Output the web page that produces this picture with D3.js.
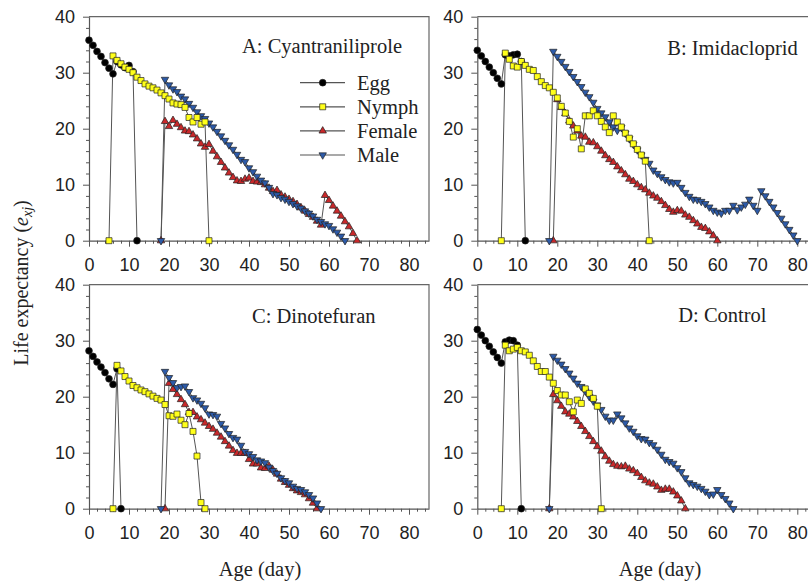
<!DOCTYPE html>
<html>
<head>
<meta charset="utf-8">
<script src="https://cdn.jsdelivr.net/npm/d3@7"></script>
<style>
body { margin: 0; background: #fff; }
svg { display: block; }
</style>
</head>
<body>
<svg width="808" height="583"></svg>
<script>
// stage names + panel titles
var stages = ["Egg", "Nymph", "Female", "Male"];
var panelTitles = ["A: Cyantraniliprole", "B: Imidacloprid", "C: Dinotefuran", "D: Control"];
var xTicks = [0, 10, 20, 30, 40, 50, 60, 70, 80];
var yTicks = [0, 10, 20, 30, 40];

// first age (day) of each curve: egg, nymph, female, male
var startA = [0, 5, 18, 18];
var startB = [0, 6, 19, 18];
var startC = [0, 6, 19, 18];
var startD = [0, 6, 18, 18];

// A: Cyantraniliprole
var eggA = [35.8, 34.9, 33.8, 32.9, 31.8, 30.8, 29.8, 32.0, 31.4, 30.9, 31.3, 30.2, 0];
var nymphA = [0, 33.0, 32.2, 31.6, 31.0, 30.6, 30.0, 29.2, 28.6, 28.0, 27.6, 27.3, 26.9, 26.4, 25.9, 25.3,
    24.6, 24.4, 24.3, 23.8, 22.0, 21.2, 22.0, 20.8, 21.2, 0];
var femaleA = [0, 21.3, 20.4, 21.5, 20.8, 20.2, 19.6, 19.5, 18.9, 18.2, 17.3, 16.7, 17.2, 16.0, 15.0, 14.0,
    13.0, 12.1, 11.3, 10.7, 10.6, 11.0, 11.2, 10.6, 10.5, 10.4, 10.0, 9.4, 8.8, 9.0, 8.2, 7.8, 7.4, 7.0,
    6.5, 5.9, 5.3, 4.7, 4.2, 3.5, 2.8, 8.1, 7.2, 6.2, 5.3, 4.4, 3.4, 2.5, 1.3, 0];
var maleA = [0, 28.8, 27.8, 27.1, 26.6, 25.8, 25.3, 24.5, 23.8, 23.0, 22.3, 21.8, 21.0, 20.3, 19.5, 18.7,
    17.9, 17.1, 16.3, 15.4, 14.5, 14.1, 13.0, 12.3, 11.5, 10.8, 10.3, 9.5, 8.4, 8.2, 7.7, 7.4, 7.0, 6.6,
    6.2, 5.8, 5.3, 4.9, 4.4, 3.8, 3.4, 3.0, 2.7, 2.1, 1.5, 0.8, 0];

// B: Imidacloprid
var eggB = [34, 33, 32, 31, 30, 29, 28, 33.2, 33.0, 33.2, 33.3, 32.0, 0];
var nymphB = [0, 33.5, 32.4, 31.2, 31.0, 32.0, 31.3, 30.6, 30.4, 29.3, 28.4, 27.7, 27.3, 26.5, 25.5, 24.0,
    22.8, 21.3, 18.5, 20.0, 16.4, 22.3, 22.3, 23.2, 22.3, 21.3, 20.3, 19.3, 22.3, 21.2, 20.3, 19.2, 18.3,
    17.3, 16.3, 15.3, 14.2, 0];
var femaleB = [0, 25.2, 23.8, 22.7, 21.4, 20.5, 19.6, 18.7, 18.5, 17.6, 17.5, 16.8, 16.0, 15.2, 14.5, 14.0,
    13.2, 12.5, 11.8, 11.0, 10.6, 10.0, 9.5, 9.1, 8.5, 8.0, 7.6, 7.0, 6.3, 5.6, 5.1, 5.4, 5.3, 4.6, 4.2,
    3.6, 3.0, 2.4, 2.2, 1.6, 0.9, 0];
var maleB = [0, 33.8, 32.9, 32.0, 31.1, 30.2, 29.3, 28.4, 27.5, 26.5, 25.7, 24.7, 23.6, 22.8, 22.1, 21.2,
    20.3, 19.7, 20.2, 19.2, 18.2, 17.2, 16.2, 15.3, 14.5, 13.8, 12.6, 12.0, 11.4, 10.9, 10.5, 10.3, 10.4,
    9.5, 8.6, 7.9, 7.4, 7.3, 7.0, 6.6, 6.0, 5.4, 5.1, 4.9, 5.4, 5.4, 6.3, 5.5, 6.0, 6.5, 7.4, 6.3, 5.4,
    8.9, 8.0, 7.0, 6.0, 5.0, 4.0, 3.0, 2.0, 1.0, 0];

// C: Dinotefuran
var eggC = [28.2, 27.2, 26.2, 25.3, 24.3, 23.2, 22.2, 25.0, 0];
var nymphC = [0, 25.6, 24.6, 23.6, 22.8, 22.0, 21.6, 21.2, 20.9, 20.5, 20.1, 19.7, 19.4, 18.6, 16.6, 16.5,
    16.9, 15.8, 15.0, 17.0, 13.8, 9.4, 1.1, 0];
var femaleC = [0, 22.4, 21.3, 20.4, 19.5, 18.6, 17.2, 17.2, 16.4, 15.9, 15.3, 14.7, 14.2, 13.5, 12.8, 12.0,
    11.2, 10.4, 9.9, 9.9, 9.9, 8.8, 8.0, 8.0, 7.3, 7.2, 7.6, 6.9, 6.2, 5.3, 4.7, 4.2, 3.6, 3.2, 2.9, 2.5,
    1.8, 1.0, 0];
var maleC = [0, 24.5, 23.4, 22.5, 21.6, 21.8, 21.9, 20.9, 19.8, 19.4, 18.8, 18.0, 16.9, 16.8, 16.5, 15.2,
    14.4, 13.4, 12.7, 12.4, 11.3, 10.2, 9.8, 9.3, 8.7, 8.5, 8.2, 7.4, 6.8, 6.3, 5.5, 5.0, 4.6, 4.0, 3.6,
    3.4, 3.0, 2.5, 1.9, 1.0, 0];

// D: Control
var eggD = [32, 31, 30, 29, 28, 27, 26, 29.8, 30.1, 30.0, 29.2, 0];
var nymphD = [0, 29.2, 28.2, 28.5, 28.8, 28.2, 28.0, 27.4, 26.4, 25.4, 24.5, 24.5, 23.5, 22.4, 21.1, 20.3,
    20.3, 19.1, 17.3, 19.4, 18.8, 21.4, 20.6, 19.7, 18.3, 0];
var femaleD = [0, 20.4, 19.3, 18.3, 17.3, 16.9, 16.4, 15.6, 14.7, 13.8, 12.9, 12.0, 11.1, 10.3, 9.3, 8.5,
    7.9, 7.6, 7.5, 7.6, 7.1, 6.8, 6.3, 5.6, 5.0, 4.6, 4.4, 3.9, 3.3, 3.5, 3.5, 3.0, 2.3, 1.4, 0];
var maleD = [0, 27.2, 26.5, 25.8, 25.0, 24.2, 23.3, 22.4, 21.8, 21.0, 20.0, 19.2, 18.5, 17.7, 16.5, 15.8,
    15.8, 16.9, 16.2, 15.3, 14.4, 13.8, 13.0, 12.5, 12.4, 11.8, 11.4, 10.6, 9.7, 8.8, 8.4, 8.1, 7.3, 6.6,
    5.5, 4.6, 4.3, 4.0, 3.6, 3.1, 2.5, 2.6, 3.4, 2.5, 1.8, 1.0, 0];

var panels = [
    {title: panelTitles[0], start: startA, series: [eggA, nymphA, femaleA, maleA]},
    {title: panelTitles[1], start: startB, series: [eggB, nymphB, femaleB, maleB]},
    {title: panelTitles[2], start: startC, series: [eggC, nymphC, femaleC, maleC]},
    {title: panelTitles[3], start: startD, series: [eggD, nymphD, femaleD, maleD]}
];

//Width and height of one panel
var w = 340;
var h = 224;
var origins = [[89, 16.7], [477.3, 16.7], [89, 284.7], [477.3, 284.7]];
var titlePos = [[153, 36.5], [190, 38.5], [163, 38.5], [201, 37.5]];

var fills = ["#000000", "#ffff1a", "#c8282a", "#2c5aa8"];
var shapes = [d3.symbolCircle, d3.symbolSquare, d3.symbolTriangle, d3.symbolTriangle];
var sizes = [36, 36, 24, 24];
var drawOrder = [0, 2, 3, 1]; // nymph on top

var x = d3.scaleLinear().domain([0, 85]).range([0, w]);
var y = d3.scaleLinear().domain([0, 40]).range([h, 0]);

var svg = d3.select("svg");

var line = d3.line()
    .x(d => x(d.age))
    .y(d => y(d.v));

function markerPath(i) {
    return d3.symbol().type(shapes[i]).size(sizes[i])();
}

panels.forEach(function (p, pi) {
    var g = svg.append("g")
        .attr("transform", "translate(" + origins[pi][0] + "," + origins[pi][1] + ")");

    // frame (top + right)
    g.append("path")
        .attr("d", "M0,0H" + w + "V" + h)
        .attr("fill", "none")
        .attr("stroke", "#666")
        .attr("stroke-width", 1.2);

    // minor ticks
    g.append("g")
        .attr("transform", "translate(0," + h + ")")
        .call(d3.axisBottom(x).tickValues(d3.range(0, 86, 2).filter(d => d % 10)).tickSize(3).tickFormat(""))
        .call(a => a.select(".domain").remove());
    g.append("g")
        .call(d3.axisLeft(y).tickValues(d3.range(0, 41, 2).filter(d => d % 10)).tickSize(3).tickFormat(""))
        .call(a => a.select(".domain").remove());

    var xa = g.append("g")
        .attr("transform", "translate(0," + h + ")")
        .call(d3.axisBottom(x).tickValues(xTicks).tickSize(6).tickSizeOuter(0).tickPadding(12));
    var ya = g.append("g")
        .call(d3.axisLeft(y).tickValues(yTicks).tickSize(6).tickSizeOuter(0).tickPadding(8));

    [xa, ya].forEach(function (a) {
        a.selectAll("text")
            .attr("font-family", "'Liberation Sans', Arial, sans-serif")
            .attr("font-size", 18)
            .attr("fill", "#222");
    });
    g.selectAll(".domain").attr("stroke", "#555").attr("stroke-width", 1.2);
    g.selectAll(".tick line").attr("stroke", "#555");

    // curves
    var data = p.series.map(function (vals, si) {
        return vals.map((v, k) => ({age: p.start[si] + k, v: v}));
    });

    data.forEach(function (d) {
        g.append("path")
            .datum(d)
            .attr("d", line)
            .attr("fill", "none")
            .attr("stroke", "#555")
            .attr("stroke-width", 1);
    });

    drawOrder.forEach(function (si) {
        g.append("g")
            .selectAll("path")
            .data(data[si])
            .enter()
            .append("path")
            .attr("d", markerPath(si))
            .attr("transform", d => "translate(" + x(d.age) + "," + y(d.v) + ")" + (si == 3 ? " rotate(180)" : ""))
            .attr("fill", fills[si])
            .attr("stroke", "#222")
            .attr("stroke-width", 0.7);
    });

    g.append("text")
        .attr("x", titlePos[pi][0])
        .attr("y", titlePos[pi][1])
        .attr("font-family", "'Liberation Serif', 'Times New Roman', serif")
        .attr("font-size", 20.5)
        .attr("fill", "#222")
        .text(p.title);

    // legend only in A
    if (pi == 0) {
        var lg = g.append("g");
        stages.forEach(function (s, si) {
            var cy = 66 + si * 24.1;
            lg.append("line")
                .attr("x1", 211).attr("x2", 256)
                .attr("y1", cy).attr("y2", cy)
                .attr("stroke", "#555")
                .attr("stroke-width", 1.2);
            lg.append("path")
                .attr("d", markerPath(si))
                .attr("transform", "translate(233.7," + cy + ")" + (si == 3 ? " rotate(180)" : ""))
                .attr("fill", fills[si])
                .attr("stroke", "#222")
                .attr("stroke-width", 0.7);
            lg.append("text")
                .attr("x", 268)
                .attr("y", cy + 7)
                .attr("font-family", "'Liberation Serif', 'Times New Roman', serif")
                .attr("font-size", 20.5)
                .attr("fill", "#222")
                .text(s);
        });
    }
});

// axis titles
[260, 660].forEach(function (cx) {
    svg.append("text")
        .attr("x", cx)
        .attr("y", 576)
        .attr("text-anchor", "middle")
        .attr("font-family", "'Liberation Serif', 'Times New Roman', serif")
        .attr("font-size", 20.5)
        .attr("fill", "#222")
        .text("Age (day)");
});

var yl = svg.append("text")
    .attr("transform", "translate(28,283) rotate(-90)")
    .attr("text-anchor", "middle")
    .attr("font-family", "'Liberation Serif', 'Times New Roman', serif")
    .attr("font-size", 20)
    .attr("fill", "#222");
yl.append("tspan").text("Life expectancy (");
yl.append("tspan").attr("font-style", "italic").text("e");
yl.append("tspan").attr("font-style", "italic").attr("font-size", 14).attr("dy", 4).text("xj");
yl.append("tspan").attr("dy", -4).text(")");
</script>
</body>
</html>
